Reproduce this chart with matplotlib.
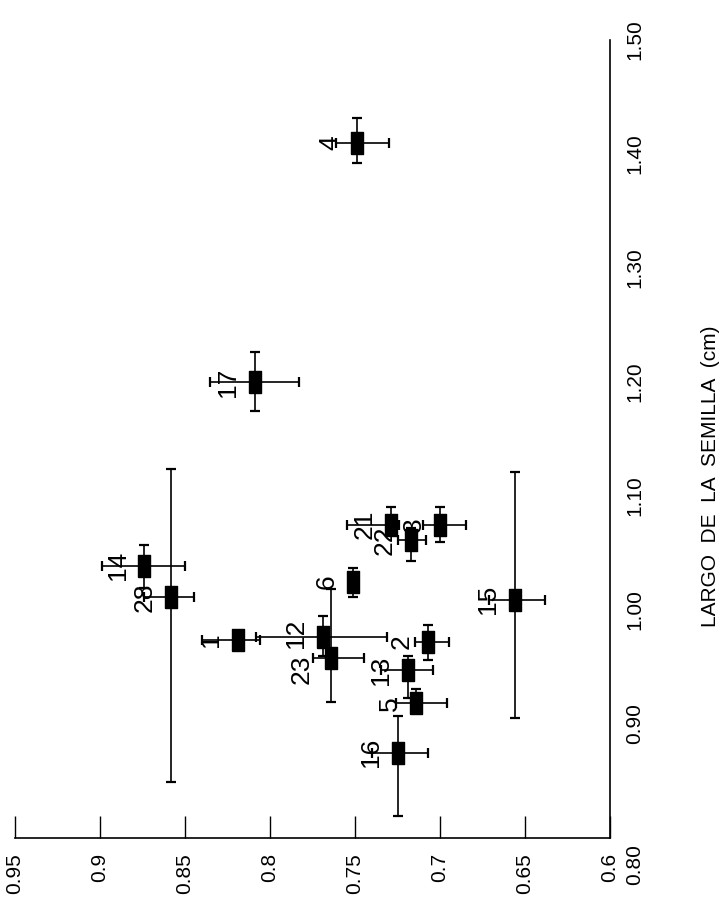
import matplotlib.pyplot as plt
from matplotlib.path import Path

# la hoja esta girada: horizontal = ancho (invertido), vertical = largo
etiquetas = ["4", "17", "14", "28", "1", "12", "23", "6", "2", "13", "5", "16", "15", "21", "22", "3"]
largo = [1.41, 1.20, 1.039, 1.011, 0.974, 0.976, 0.958, 1.0245, 0.972, 0.947, 0.918, 0.875, 1.009, 1.075, 1.061, 1.075]
ancho = [0.749, 0.809, 0.874, 0.858, 0.819, 0.769, 0.764, 0.751, 0.707, 0.719, 0.714, 0.725, 0.656, 0.729, 0.717, 0.700]
largo_err_sup = [0.022, 0.026, 0.018, 0.113, 0.008, 0.019, 0.060, 0.012, 0.015, 0.013, 0.013, 0.032, 0.112, 0.015, 0.011, 0.015]
largo_err_inf = [0.018, 0.025, 0.020, 0.162, 0.008, 0.016, 0.039, 0.013, 0.016, 0.024, 0.008, 0.056, 0.104, 0.009, 0.018, 0.015]
ancho_err_sup = [0.012, 0.026, 0.025, 0.016, 0.021, 0.039, 0.011, 0.0, 0.008, 0.016, 0.012, 0.015, 0.015, 0.026, 0.008, 0.010]
ancho_err_inf = [0.019, 0.026, 0.024, 0.013, 0.013, 0.038, 0.019, 0.0, 0.012, 0.015, 0.018, 0.018, 0.018, 0.005, 0.009, 0.015]

ancho_ticks = [0.95, 0.9, 0.85, 0.8, 0.75, 0.7, 0.65, 0.6]
ancho_labels = ["0.95", "0.9", "0.85", "0.8", "0.75", "0.7", "0.65", "0.6"]
largo_ticks = [0.8, 0.9, 1.0, 1.1, 1.2, 1.3, 1.4, 1.5]
largo_labels = ["", "0.90", "1.00", "1.10", "1.20", "1.30", "1.40", "1.50"]

# desplazamientos especiales de algunas etiquetas (puntos)
desplaz = {"12": (-19, 3), "23": (-21, -8)}

plt.rcParams['font.family'] = ['Liberation Sans', 'DejaVu Sans']

fig = plt.figure(figsize=(7.23, 8.99), dpi=100)
ax = fig.add_axes([15/723, 61/899, 595/723, 798/899])

rect = Path([(-0.3, -0.5), (0.3, -0.5), (0.3, 0.5), (-0.3, 0.5), (-0.3, -0.5)])

ax.errorbar(ancho, largo,
            xerr=[ancho_err_inf, ancho_err_sup],
            yerr=[largo_err_inf, largo_err_sup],
            fmt='none', ecolor='black', elinewidth=1.2, capsize=3.5, capthick=1.6)
ax.plot(ancho, largo, linestyle='none', marker=rect, markersize=15.5,
        color='black')

for i in range(len(etiquetas)):
    off = desplaz.get(etiquetas[i], (-19, 0))
    ax.annotate(etiquetas[i], (ancho[i], largo[i]), xytext=off,
                textcoords='offset points', rotation=90,
                ha='center', va='center', fontsize=19)

ax.set_xlim(0.95, 0.6)
ax.set_ylim(0.80, 1.50)
ax.spines['left'].set_visible(False)
ax.spines['top'].set_visible(False)
ax.spines['bottom'].set_linewidth(1.2)
ax.spines['right'].set_linewidth(1.2)

ax.set_xticks(ancho_ticks)
ax.set_xticklabels(ancho_labels)
ax.yaxis.tick_right()
ax.set_yticks(largo_ticks)
ax.set_yticklabels(largo_labels)

ax.tick_params(axis='x', direction='in', length=16, width=1, pad=11,
               labelsize=15, labelrotation=90)
ax.tick_params(axis='y', length=0, pad=11, labelsize=15, labelrotation=90)
for lab in ax.get_yticklabels():
    lab.set_va('center')

# la etiqueta 0.80 esta corrida hacia abajo en el original
ax.annotate("0.80", (1.0, 0.80), xycoords=('axes fraction', 'data'),
            xytext=(11, -19), textcoords='offset points', rotation=90,
            ha='left', va='center', fontsize=15)

fig.text(711/723, 1 - 476/899, "LARGO  DE  LA  SEMILLA  (cm)", rotation=90,
         ha='center', va='center', fontsize=15)

fig.savefig('out.png', dpi=100)
